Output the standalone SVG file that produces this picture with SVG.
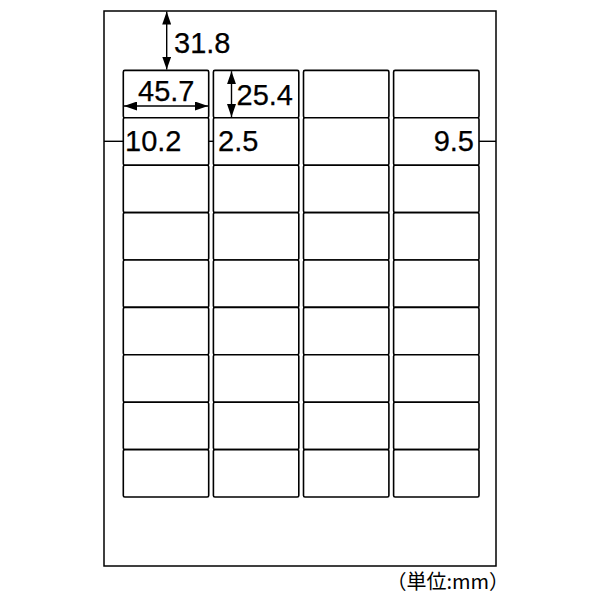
<svg xmlns="http://www.w3.org/2000/svg" xmlns:xlink="http://www.w3.org/1999/xlink" width="600" height="600" viewBox="0 0 600 600">
<style>
.page{fill:#fff;stroke:#000;stroke-width:1.5}
.cell{fill:#fff;stroke:#000;stroke-width:1.6}
.dim{stroke:#000;stroke-width:1.4;fill:none}
.tick{stroke:#000;stroke-width:1.4}
.num{font-family:"Liberation Sans",Arial,sans-serif;font-size:29px;fill:#000;stroke:#000;stroke-width:0.25}
.unit{font-family:"Noto Sans CJK JP","Liberation Sans",sans-serif;font-size:20px;fill:#000}
</style>
<defs>
<marker id="ah" viewBox="0 0 13 9" refX="13" refY="4.5" markerWidth="13" markerHeight="9" markerUnits="userSpaceOnUse" orient="auto-start-reverse">
<path d="M0,0 L13,4.5 L0,9 Z" fill="#000"/>
</marker>
<rect id="c" width="85.4" height="47.4" rx="1.5" class="cell"/>
</defs>
<rect id="page" class="page" x="104" y="11" width="392" height="555"/>
<g id="labels">
<g id="col1">
<use xlink:href="#c" x="123.3" y="70.4"/><use xlink:href="#c" x="123.3" y="117.8"/><use xlink:href="#c" x="123.3" y="165.2"/><use xlink:href="#c" x="123.3" y="212.6"/><use xlink:href="#c" x="123.3" y="260"/><use xlink:href="#c" x="123.3" y="307.4"/><use xlink:href="#c" x="123.3" y="354.8"/><use xlink:href="#c" x="123.3" y="402.2"/><use xlink:href="#c" x="123.3" y="449.6"/>
</g>
<g id="col2">
<use xlink:href="#c" x="213.4" y="70.4"/><use xlink:href="#c" x="213.4" y="117.8"/><use xlink:href="#c" x="213.4" y="165.2"/><use xlink:href="#c" x="213.4" y="212.6"/><use xlink:href="#c" x="213.4" y="260"/><use xlink:href="#c" x="213.4" y="307.4"/><use xlink:href="#c" x="213.4" y="354.8"/><use xlink:href="#c" x="213.4" y="402.2"/><use xlink:href="#c" x="213.4" y="449.6"/>
</g>
<g id="col3">
<use xlink:href="#c" x="303.5" y="70.4"/><use xlink:href="#c" x="303.5" y="117.8"/><use xlink:href="#c" x="303.5" y="165.2"/><use xlink:href="#c" x="303.5" y="212.6"/><use xlink:href="#c" x="303.5" y="260"/><use xlink:href="#c" x="303.5" y="307.4"/><use xlink:href="#c" x="303.5" y="354.8"/><use xlink:href="#c" x="303.5" y="402.2"/><use xlink:href="#c" x="303.5" y="449.6"/>
</g>
<g id="col4">
<use xlink:href="#c" x="393.6" y="70.4"/><use xlink:href="#c" x="393.6" y="117.8"/><use xlink:href="#c" x="393.6" y="165.2"/><use xlink:href="#c" x="393.6" y="212.6"/><use xlink:href="#c" x="393.6" y="260"/><use xlink:href="#c" x="393.6" y="307.4"/><use xlink:href="#c" x="393.6" y="354.8"/><use xlink:href="#c" x="393.6" y="402.2"/><use xlink:href="#c" x="393.6" y="449.6"/>
</g>
</g>
<g id="connectors">
<line class="dim" x1="166.7" y1="11.5" x2="166.7" y2="69.6" marker-start="url(#ah)" marker-end="url(#ah)"/>
<line class="dim" x1="124" y1="106" x2="208" y2="106" marker-start="url(#ah)" marker-end="url(#ah)"/>
<line class="dim" x1="231.5" y1="71.2" x2="231.5" y2="117" marker-start="url(#ah)" marker-end="url(#ah)"/>
<line class="tick" x1="104" y1="141.3" x2="123.3" y2="141.3"/>
<line class="tick" x1="208.7" y1="141.3" x2="213.4" y2="141.3"/>
<line class="tick" x1="479" y1="141.3" x2="496" y2="141.3"/>
</g>
<g id="texts">
<text class="num" x="174" y="52.7">31.8</text>
<text class="num" x="138" y="100.5">45.7</text>
<text class="num" x="236.5" y="104.5">25.4</text>
<text class="num" x="125" y="150.5">10.2</text>
<text class="num" x="218" y="150.8">2.5</text>
<text class="num" x="474" y="150.8" text-anchor="end">9.5</text>
<text class="unit" x="509" y="589" text-anchor="end">（単位:mm）</text>
</g>
</svg>
